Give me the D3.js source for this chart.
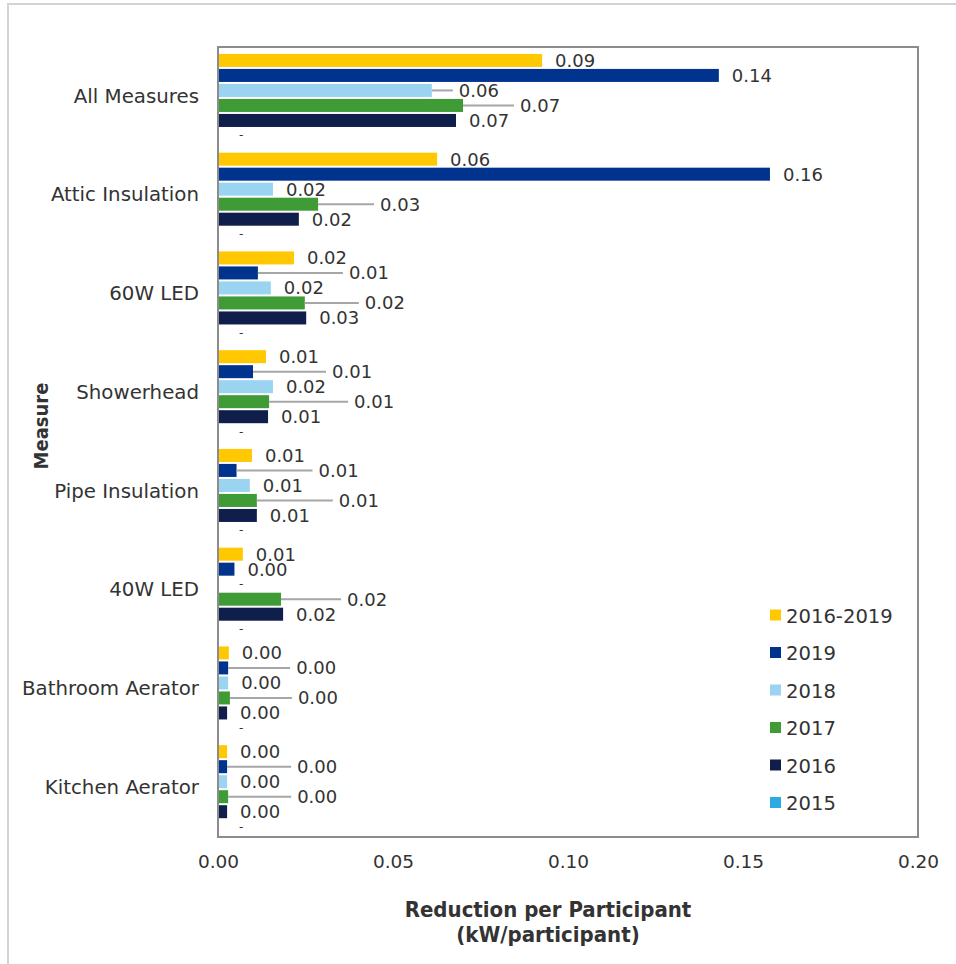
<!DOCTYPE html>
<html>
<head>
<meta charset="utf-8">
<script src="https://cdn.jsdelivr.net/npm/d3@7/dist/d3.min.js"></script>
<style>
  html, body { margin: 0; padding: 0; background: #fff; }
  svg { display: block; }
  text { font-family: "DejaVu Sans", Verdana, sans-serif; fill: #333; }
  .title { font-stretch: condensed; }
</style>
</head>
<body>
<svg id="chart" width="956" height="964"></svg>
<script>
// Measures (top to bottom) and series (per-measure bar order)
const categories = ["All Measures", "Attic Insulation", "60W LED", "Showerhead",
  "Pipe Insulation", "40W LED", "Bathroom Aerator", "Kitchen Aerator"];
const seriesNames = ["2016-2019", "2019", "2018", "2017", "2016", "2015"];

// Reduction per participant (kW/participant)
const v2016_2019 = [0.0926, 0.0626, 0.0217, 0.0137, 0.0097, 0.0071, 0.0031, 0.0026];
const v2019      = [0.1431, 0.1577, 0.0114, 0.0100, 0.0053, 0.0047, 0.0029, 0.0026];
const v2018      = [0.0611, 0.0157, 0.0151, 0.0157, 0.0091, 0.0000, 0.0029, 0.0026];
const v2017      = [0.0700, 0.0286, 0.0248, 0.0146, 0.0111, 0.0180, 0.0034, 0.0029];
const v2016      = [0.0680, 0.0231, 0.0252, 0.0143, 0.0111, 0.0186, 0.0026, 0.0026];
const v2015      = [0, 0, 0, 0, 0, 0, 0, 0];

const xTicks = [0, 0.05, 0.10, 0.15, 0.20];

const seriesValues = [v2016_2019, v2019, v2018, v2017, v2016, v2015];
const seriesColors = ["#FFC800", "#00338D", "#9AD4F0", "#3F9B35", "#0F1E4B", "#2DAAE1"];

// Labels pulled out to the right with a leader line (extra px beyond the normal gap)
const labelNudge = {
  "All Measures":     { "2018": 14, "2017": 44 },
  "Attic Insulation": { "2017": 49 },
  "60W LED":          { "2019": 78, "2017": 47 },
  "Showerhead":       { "2019": 66, "2017": 72 },
  "Pipe Insulation":  { "2019": 69, "2017": 69 },
  "40W LED":          { "2017": 53 },
  "Bathroom Aerator": { "2019": 55, "2017": 55 },
  "Kitchen Aerator":  { "2019": 57, "2017": 56 }
};

const rows = [];
categories.forEach((c, ci) => {
  seriesNames.forEach((s, si) => {
    rows.push({ cat: c, series: s, value: seriesValues[si][ci], color: seriesColors[si] });
  });
});

const svg = d3.select("#chart");
const plot = { left: 218, top: 47, right: 918, bottom: 837 };

// outer chart border (top and left edges visible)
svg.append("path")
  .attr("d", `M8,964 L8,4 L956,4`)
  .attr("fill", "none").attr("stroke", "#d3d3d3").attr("stroke-width", 2);

const x = d3.scaleLinear().domain([0, 0.20]).range([plot.left, plot.right]);
const y = d3.scaleBand().domain(categories).range([plot.top, plot.bottom]).padding(0);
const ySub = d3.scaleBand().domain(seriesNames).range([0, y.bandwidth()])
  .paddingInner(0).paddingOuter(0.29).align(0.68);

// bars
const g = svg.append("g");
g.selectAll("rect.bar").data(rows.filter(d => d.value > 0)).join("rect")
  .attr("class", "bar")
  .attr("x", x(0))
  .attr("y", d => y(d.cat) + ySub(d.series) + 1)
  .attr("width", d => x(d.value) - x(0))
  .attr("height", ySub.bandwidth() - 2)
  .attr("fill", d => d.color);

// value labels and leader lines
const fmt = d3.format(".2f");
rows.forEach(d => {
  const cy = y(d.cat) + ySub(d.series) + ySub.bandwidth() / 2;
  const end = x(d.value);
  if (d.value === 0) {
    g.append("text").attr("x", x(0) + 21).attr("y", cy)
      .attr("dominant-baseline", "central").attr("font-size", 12).text("-");
    return;
  }
  const nudge = (labelNudge[d.cat] || {})[d.series] || 0;
  const lx = end + 13 + nudge;
  if (nudge > 0) {
    g.append("line").attr("x1", end).attr("x2", lx - 6)
      .attr("y1", cy).attr("y2", cy)
      .attr("stroke", "#a6a6a6").attr("stroke-width", 2);
  }
  g.append("text").attr("x", lx).attr("y", cy)
    .attr("dominant-baseline", "central").attr("font-size", 18)
    .text(fmt(d.value));
});

// plot frame
svg.append("rect")
  .attr("x", plot.left).attr("y", plot.top)
  .attr("width", plot.right - plot.left).attr("height", plot.bottom - plot.top)
  .attr("fill", "none").attr("stroke", "#8c8c8c").attr("stroke-width", 2);

// x axis
const xAxis = svg.append("g").attr("transform", `translate(0,${plot.bottom})`)
  .call(d3.axisBottom(x).tickValues(xTicks).tickFormat(fmt).tickSize(0).tickPadding(18));
xAxis.select(".domain").remove();
xAxis.selectAll("text").attr("font-size", 18.5).attr("fill", "#333")
  .attr("font-family", "\"DejaVu Sans\", Verdana, sans-serif");

// y axis
const yAxis = svg.append("g").attr("transform", `translate(${plot.left},0)`)
  .call(d3.axisLeft(y).tickSize(0).tickPadding(19));
yAxis.select(".domain").remove();
yAxis.selectAll("text").attr("font-size", 19.8).attr("fill", "#333")
  .attr("font-family", "\"DejaVu Sans\", Verdana, sans-serif");

// axis titles
const titleFont = "\"DejaVu Sans\", sans-serif";
const xt = svg.append("text").attr("class", "title").attr("x", 548).attr("y", 917)
  .attr("text-anchor", "middle").attr("font-weight", "bold")
  .attr("font-size", 22).attr("font-family", titleFont).attr("fill", "#000");
xt.append("tspan").attr("x", 548).attr("dy", 0).text("Reduction per Participant");
xt.append("tspan").attr("x", 548).attr("dy", 25).text("(kW/participant)");

svg.append("text").attr("class", "title")
  .attr("transform", "translate(41,426) rotate(-90)")
  .attr("text-anchor", "middle").attr("dominant-baseline", "central")
  .attr("font-weight", "bold").attr("font-size", 20)
  .attr("font-family", titleFont).attr("fill", "#000")
  .text("Measure");

// legend
const legend = svg.append("g").attr("transform", "translate(770,615)");
seriesNames.forEach((s, i) => {
  const row = legend.append("g").attr("transform", `translate(0,${i * 37.5})`);
  row.append("rect").attr("x", 0).attr("y", -5.5).attr("width", 11).attr("height", 11)
    .attr("fill", seriesColors[i]);
  row.append("text").attr("x", 16).attr("y", 1)
    .attr("dominant-baseline", "central").attr("font-size", 19.6).text(s);
});
</script>
</body>
</html>
